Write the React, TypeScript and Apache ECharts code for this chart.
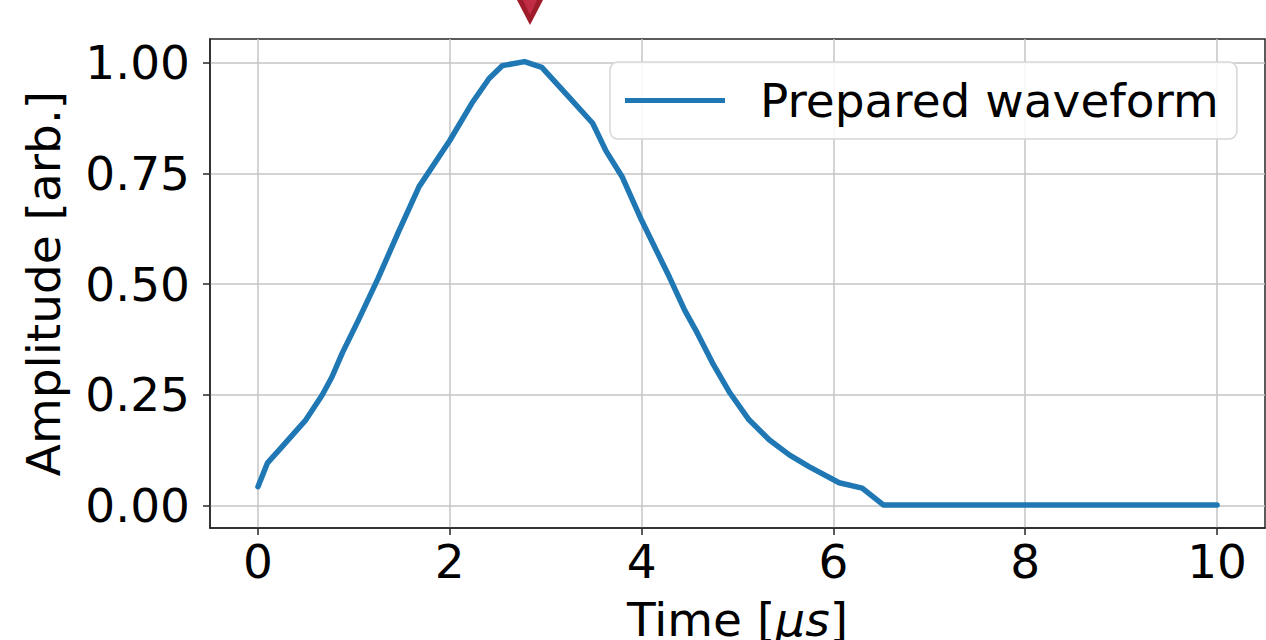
import React, { useEffect, useRef } from "react";
import * as echarts from "echarts";

const times = [0, 0.1, 0.25, 0.5, 0.67, 0.77, 0.88, 1.05, 1.25, 1.47, 1.68, 2.0, 2.23, 2.41, 2.55, 2.78, 2.96, 3.21, 3.49, 3.63, 3.8, 4.0, 4.29, 4.45, 4.58, 4.74, 4.92, 5.12, 5.33, 5.54, 5.75, 6.06, 6.3, 6.52, 10];
const amplitudes = [0.043, 0.097, 0.133, 0.194, 0.25, 0.29, 0.345, 0.42, 0.512, 0.62, 0.72, 0.824, 0.908, 0.964, 0.993, 1.002, 0.989, 0.93, 0.863, 0.8, 0.741, 0.644, 0.516, 0.441, 0.39, 0.322, 0.255, 0.194, 0.149, 0.115, 0.088, 0.052, 0.04, 0.002, 0.002];
const xTicks = [0, 2, 4, 6, 8, 10];
const yTicks = [0, 0.25, 0.5, 0.75, 1.0];
const seriesName = "Prepared waveform";

const FONT = "DejaVu Sans";
const BLUE = "#1f77b4";
const FS = 47;

export default function App() {
  const ref = useRef<HTMLDivElement>(null);
  useEffect(() => {
    if (!ref.current) return;
    const chart = echarts.init(ref.current, undefined, { renderer: "svg" });
    chart.setOption({
      animation: false,
      backgroundColor: "#ffffff",
      grid: {
        left: 210,
        right: 1,
        top: 39,
        bottom: 112,
        containLabel: false,
        outerBoundsMode: "none",
        show: true,
        borderColor: "#262626",
        borderWidth: 1.5,
        backgroundColor: "#ffffff",
      },
      legend: {
        left: 610,
        top: 62,
        data: [seriesName],
        icon: "rect",
        itemWidth: 100,
        itemHeight: 5,
        padding: [15, 18, 15, 15],
        backgroundColor: "rgba(255,255,255,0.85)",
        borderColor: "#d6d6d6",
        borderWidth: 1.5,
        borderRadius: 8,
        selectedMode: false,
        formatter: (n: string) => "{s|}{t|" + n + "}",
        textStyle: {
          fontFamily: FONT,
          fontSize: FS,
          color: "#000",
          rich: {
            s: { width: 30 },
            t: { fontFamily: FONT, fontSize: FS, color: "#000", lineHeight: 48 },
          },
        },
      },
      xAxis: {
        type: "value",
        min: -0.5,
        max: 10.5,
        name: "{n|Time [}{i|μs}{n|]}",
        nameLocation: "middle",
        nameGap: 68,
        nameTextStyle: {
          fontFamily: FONT,
          fontSize: FS,
          color: "#000",
          rich: {
            n: { fontFamily: FONT, fontSize: FS, color: "#000" },
            i: { fontFamily: FONT, fontSize: FS, color: "#000", fontStyle: "italic" },
          },
        },
        axisLine: { show: true, onZero: false, lineStyle: { color: "#262626", width: 1.5 } },
        axisTick: { show: true, customValues: xTicks, length: 7, lineStyle: { color: "#262626", width: 1.5 } },
        axisLabel: {
          customValues: xTicks,
          fontFamily: FONT,
          fontSize: FS,
          color: "#000",
          margin: 10,
          formatter: (v: number) => String(v),
        },
        splitLine: { show: true, lineStyle: { color: "#c4c4c4", width: 1.5 } },
      },
      yAxis: {
        type: "value",
        min: -0.05,
        max: 1.053,
        name: "Amplitude [arb.]",
        nameLocation: "middle",
        nameGap: 143,
        nameTextStyle: { fontFamily: FONT, fontSize: FS, color: "#000" },
        axisLine: { show: true, onZero: false, lineStyle: { color: "#262626", width: 1.5 } },
        axisTick: { show: true, customValues: yTicks, length: 7, lineStyle: { color: "#262626", width: 1.5 } },
        axisLabel: {
          customValues: yTicks,
          fontFamily: FONT,
          fontSize: FS,
          color: "#000",
          margin: 20,
          formatter: (v: number) => v.toFixed(2),
        },
        splitLine: { show: true, lineStyle: { color: "#c4c4c4", width: 1.5 } },
      },
      series: [
        {
          name: seriesName,
          type: "line",
          data: times.map((t, i) => [t, amplitudes[i]]),
          symbol: "none",
          color: BLUE,
          lineStyle: { color: BLUE, width: 5.5, join: "round", cap: "round" },
          z: 3,
        },
      ],
      graphic: [
        {
          type: "polygon",
          shape: { points: [[517, 0], [543, 0], [530, 25]] },
          style: { fill: "#9e1c29" },
          z: 10,
        },
        {
          type: "polygon",
          shape: { points: [[523, 0], [537, 0], [530, 15]] },
          style: { fill: "#c02d45" },
          z: 11,
        },
      ],
    });
    return () => chart.dispose();
  }, []);
  return (
    <div
      ref={ref}
      style={{ position: "absolute", left: 0, top: 0, width: 1266, height: 640, background: "#fff" }}
    />
  );
}
